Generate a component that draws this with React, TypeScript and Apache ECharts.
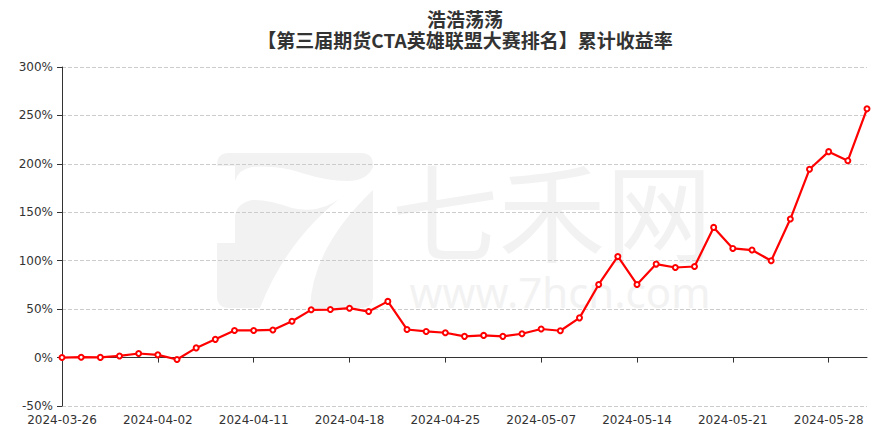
import React, { useEffect, useRef } from "react";
import * as echarts from "echarts";

const titleLine1 = "浩浩荡荡";
const titleLine2 = "【第三届期货CTA英雄联盟大赛排名】累计收益率";

const dates = [
  "2024-03-26", "2024-03-27", "2024-03-28", "2024-03-29", "2024-04-01",
  "2024-04-02", "2024-04-03", "2024-04-08", "2024-04-09", "2024-04-10",
  "2024-04-11", "2024-04-12", "2024-04-15", "2024-04-16", "2024-04-17",
  "2024-04-18", "2024-04-19", "2024-04-22", "2024-04-23", "2024-04-24",
  "2024-04-25", "2024-04-26", "2024-04-29", "2024-04-30", "2024-05-06",
  "2024-05-07", "2024-05-08", "2024-05-09", "2024-05-10", "2024-05-13",
  "2024-05-14", "2024-05-15", "2024-05-16", "2024-05-17", "2024-05-20",
  "2024-05-21", "2024-05-22", "2024-05-23", "2024-05-24", "2024-05-27",
  "2024-05-28", "2024-05-29", "2024-05-30",
];

const returns = [
  0, 0.4, 0.2, 1.7, 4.2,
  2.8, -2, 10, 18.8, 28,
  28, 28.5, 37.5, 49.3, 49.6,
  51, 47.5, 58, 29, 27,
  25.6, 21.9, 22.9, 21.9, 24.6,
  29.5, 27.7, 41, 75.5, 104.4,
  75.5, 96.5, 93, 94, 134.4,
  112.7, 111, 100, 143, 194.4,
  212.6, 203.3, 256.8,
];

const yMin = -50;
const yMax = 300;
const yStep = 50;

const logoPath =
  "M0,13 V12 Q0,0 12,0 H144 Q156,0 156,12 V14 Q150,28 130,28 Q110,28 85,20 Q60,12 35,14 Q22,16 18,28 V13 Z " +
  "M18,63 Q20,50 35,47 Q50,46 75,55 Q105,62 130,40 Q70,85 43,155 H12 Q0,155 0,143 V90 H18 Z " +
  "M156,37 V143 Q156,155 144,155 H93 Q95,95 156,37 Z";

let registered = false;

export default function App() {
  const ref = useRef<HTMLDivElement>(null);

  useEffect(() => {
    if (!ref.current) return;
    if (!registered) {
      echarts.graphic.registerShape("logo", echarts.graphic.extendPath(logoPath, {}));
      registered = true;
    }
    const chart = echarts.init(ref.current, null, { renderer: "svg" });
    const wm = "#f2f2f2";
    const axisFont = "DejaVu Sans";
    chart.setOption({
      animation: false,
      backgroundColor: "#ffffff",
      grid: { left: 62, right: 25, top: 67, bottom: 28, containLabel: false },
      graphic: [
        { type: "logo", x: 217, y: 153, scaleX: 1, scaleY: 1, z: -10, silent: true, style: { fill: wm } },
        {
          type: "text", x: 552, y: 207, z: -10, silent: true,
          style: { text: "七禾网", fontSize: 107, lineHeight: 94, fontFamily: "Noto Sans CJK SC", fontWeight: "normal", fill: wm, align: "center", verticalAlign: "middle" },
        },
        {
          type: "text", x: 560, y: 291, z: -10, silent: true,
          style: { text: "www.7hcn.com", fontSize: 42, lineHeight: 38, fontFamily: "Noto Sans", fontWeight: "normal", fill: wm, align: "center", verticalAlign: "middle" },
        },
        {
          type: "text", x: 465, y: 18.5,
          style: { text: titleLine1, fontSize: 19, lineHeight: 20, fontFamily: "Noto Sans CJK SC", fontWeight: "bold", fill: "#333", align: "center", verticalAlign: "middle" },
        },
        {
          type: "text", x: 465, y: 39,
          style: { text: titleLine2, fontSize: 19, lineHeight: 20, fontFamily: "Noto Sans CJK SC", fontWeight: "bold", fill: "#333", align: "center", verticalAlign: "middle" },
        },
      ],
      xAxis: [
        {
          type: "category",
          data: dates,
          boundaryGap: false,
          position: "bottom",
          axisLine: { show: false, onZero: false },
          axisTick: { show: false },
          axisLabel: { interval: 4, color: "#333", fontSize: 12, fontFamily: axisFont, margin: 8 },
          splitLine: { show: false },
        },
        {
          type: "category",
          data: dates,
          boundaryGap: false,
          position: "bottom",
          axisLine: { show: true, onZero: true, lineStyle: { color: "#333", width: 1 } },
          axisTick: { show: true, interval: 4, length: 5, lineStyle: { color: "#333" } },
          axisLabel: { show: false },
          splitLine: { show: false },
        },
      ],
      yAxis: {
        type: "value",
        min: yMin,
        max: yMax,
        interval: yStep,
        axisLine: { show: true, lineStyle: { color: "#333" } },
        axisTick: { show: true, length: 5, lineStyle: { color: "#333" } },
        axisLabel: { formatter: "{value}%", color: "#333", fontSize: 12, fontFamily: axisFont, margin: 9 },
        splitLine: { show: true, lineStyle: { type: "dashed", color: "#cccccc" } },
      },
      series: [
        {
          type: "line",
          data: returns,
          xAxisIndex: 0,
          symbol: "emptyCircle",
          symbolSize: 5,
          showSymbol: true,
          lineStyle: { color: "#ff0000", width: 2.2 },
          itemStyle: { color: "#ff0000", borderWidth: 1 },
        },
      ],
    });
    return () => chart.dispose();
  }, []);

  return (
    <div
      ref={ref}
      style={{ position: "fixed", left: 0, top: 0, width: 892, height: 434 }}
    />
  );
}
